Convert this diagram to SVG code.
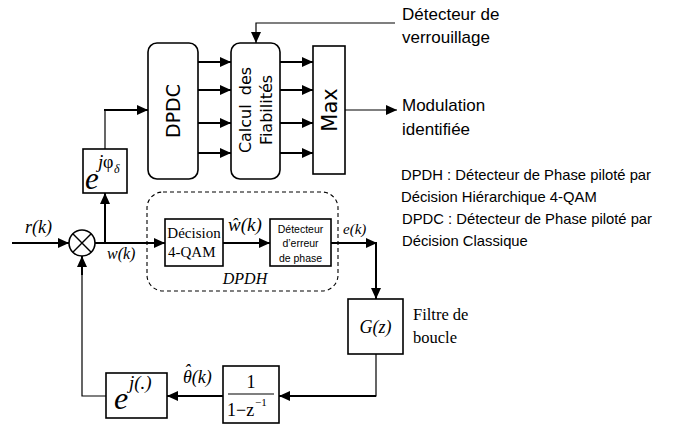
<svg xmlns="http://www.w3.org/2000/svg" width="677" height="430" viewBox="0 0 677 430">
  <style>
    .box { fill: #fff; stroke: #000; stroke-width: 1.6; }
    .dash { fill: none; stroke: #000; stroke-width: 1.1; stroke-dasharray: 4 3; }
    .w { fill: none; stroke: #000; stroke-width: 2; }
    .t { fill: none; stroke: #000; stroke-width: 1.2; }
    .sans { font-family: "Liberation Sans", Arial, sans-serif; fill: #000; }
    .dv { font-family: "DejaVu Sans", Verdana, sans-serif; fill: #000; }
    .tm { font-family: "Liberation Serif", "Times New Roman", serif; fill: #000; }
    .it { font-style: italic; }
  </style>
  <defs>
    <marker id="ah" markerUnits="userSpaceOnUse" markerWidth="11" markerHeight="10" refX="11" refY="5" orient="auto">
      <path d="M0,0 L11,5 L0,10 z" fill="#000"/>
    </marker>
  </defs>

  <!-- connectors -->
  <g id="connectors">
    <line class="w" x1="12" y1="243" x2="69" y2="243" marker-end="url(#ah)"/>
    <line class="w" x1="95" y1="243" x2="165" y2="243" marker-end="url(#ah)"/>
    <line class="w" x1="105" y1="243" x2="105" y2="193" marker-end="url(#ah)"/>
    <line class="t" x1="105" y1="149" x2="105" y2="110"/>
    <line class="w" x1="104" y1="110" x2="148" y2="110" marker-end="url(#ah)"/>
    <line class="w" x1="223" y1="243" x2="270" y2="243" marker-end="url(#ah)"/>
    <line class="w" x1="331" y1="243" x2="377" y2="243" marker-end="url(#ah)"/>
    <line class="w" x1="376" y1="242" x2="376" y2="299" marker-end="url(#ah)"/>
    <polyline class="t" points="376,354 376,396 330,396"/>
    <line class="w" x1="376" y1="396" x2="279" y2="396" marker-end="url(#ah)"/>
    <line class="w" x1="223" y1="396" x2="167" y2="396" marker-end="url(#ah)"/>
    <polyline class="t" points="106,396 82,396 82,262"/>
    <line class="w" x1="82" y1="275" x2="82" y2="256" marker-end="url(#ah)"/>
    <!-- DPDC to Calcul des Fiabilités -->
    <line class="w" x1="198" y1="62" x2="231" y2="62" marker-end="url(#ah)"/>
    <line class="w" x1="198" y1="90" x2="231" y2="90" marker-end="url(#ah)"/>
    <line class="w" x1="198" y1="123" x2="231" y2="123" marker-end="url(#ah)"/>
    <line class="w" x1="198" y1="153" x2="231" y2="153" marker-end="url(#ah)"/>
    <!-- Calcul des Fiabilités to Max -->
    <line class="w" x1="280" y1="62" x2="313" y2="62" marker-end="url(#ah)"/>
    <line class="w" x1="280" y1="90" x2="313" y2="90" marker-end="url(#ah)"/>
    <line class="w" x1="280" y1="123" x2="313" y2="123" marker-end="url(#ah)"/>
    <line class="w" x1="280" y1="153" x2="313" y2="153" marker-end="url(#ah)"/>
    <line class="t" x1="345" y1="110" x2="397" y2="110" marker-end="url(#ah)"/>
    <polyline class="t" points="395,23 256,23 256,43" marker-end="url(#ah)"/>
  </g>

  <!-- signal labels -->
  <g id="labels">
    <text class="tm it" x="25" y="233" font-size="18">r(k)</text>
    <text class="tm it" x="107" y="259" font-size="16">w(k)</text>
    <text class="tm it" x="228" y="231" font-size="19">ŵ(k)</text>
    <text class="tm it" x="343" y="234" font-size="15">e(k)</text>
    <text class="tm it" x="183" y="383" font-size="18">θ<tspan dx="-7.5" dy="-6">ˆ</tspan><tspan dx="1.5" dy="6">(k)</tspan></text>
  </g>

  <g id="dpdh">
    <rect class="dash" x="147" y="192" width="191" height="99" rx="16"/>
    <text class="tm it" x="245" y="284" font-size="16" text-anchor="middle">DPDH</text>
  </g>

  <g id="sum">
    <circle cx="82" cy="243" r="13" fill="#fff" stroke="#000" stroke-width="1.6"/>
    <path d="M72.8,233.8 L91.2,252.2 M91.2,233.8 L72.8,252.2" stroke="#000" stroke-width="1.4"/>
  </g>

  <g id="phase-offset">
    <rect class="box" x="83" y="149" width="44" height="44"/>
    <text class="tm it" x="85" y="189" font-size="31">e</text>
    <text class="tm it" x="98" y="168" font-size="19">j</text>
    <text class="tm" x="103" y="168" font-size="18">φ</text>
    <text class="tm it" x="114" y="173" font-size="12">δ</text>
  </g>

  <g id="decision">
    <rect class="box" x="165" y="219" width="58" height="47"/>
    <text class="tm" x="194" y="238" font-size="15" text-anchor="middle">Décision</text>
    <text class="tm" x="168" y="257" font-size="15">4-QAM</text>
  </g>

  <g id="detecteur-erreur">
    <rect class="box" x="270" y="219" width="61" height="47"/>
    <text class="sans" x="300.5" y="233" font-size="10.5" text-anchor="middle">Détecteur</text>
    <text class="sans" x="300.5" y="247" font-size="10.5" text-anchor="middle">d’erreur</text>
    <text class="sans" x="300.5" y="262" font-size="10.5" text-anchor="middle">de phase</text>
  </g>

  <g id="filtre">
    <rect class="box" x="348" y="299" width="55" height="55"/>
    <text class="tm it" x="375.5" y="333" font-size="18" text-anchor="middle">G(z)</text>
    <text class="tm" x="413" y="320" font-size="16.5">Filtre de</text>
    <text class="tm" x="413" y="343" font-size="16.5">boucle</text>
  </g>

  <g id="integrateur">
    <rect class="box" x="223" y="366" width="56" height="57"/>
    <text class="tm" x="251" y="388" font-size="18" text-anchor="middle">1</text>
    <line x1="228" y1="394" x2="274" y2="394" stroke="#000" stroke-width="1.2"/>
    <text class="tm" x="227" y="416" font-size="18">1−z</text>
    <text class="tm" x="255" y="406" font-size="11">−1</text>
  </g>

  <g id="nco">
    <rect class="box" x="106" y="373" width="61" height="45"/>
    <text class="tm it" x="114" y="409" font-size="32">e</text>
    <text class="tm it" x="129" y="389" font-size="19">j(.)</text>
  </g>

  <g id="dpdc">
    <rect class="box" x="148" y="43" width="50" height="136" rx="9"/>
    <text class="dv" transform="translate(180,111) rotate(-90)" font-size="19" text-anchor="middle">DPDC</text>
  </g>

  <g id="calcul">
    <rect class="box" x="231" y="43" width="49" height="136" rx="9"/>
    <text class="dv" transform="translate(251,110) rotate(-90)" font-size="16" text-anchor="middle" word-spacing="4">Calcul des</text>
    <text class="dv" transform="translate(272,110) rotate(-90)" font-size="16" text-anchor="middle">Fiabilités</text>
  </g>

  <g id="max">
    <rect class="box" x="313" y="46" width="32" height="128"/>
    <text class="dv" transform="translate(337,110) rotate(-90)" font-size="21" text-anchor="middle">Max</text>
  </g>

  <g id="notes">
    <text class="sans" x="402" y="20" font-size="17">Détecteur de</text>
    <text class="sans" x="402" y="43" font-size="17">verrouillage</text>
    <text class="sans" x="402" y="111" font-size="17">Modulation</text>
    <text class="sans" x="402" y="135" font-size="17">identifiée</text>
    <text class="sans" x="401" y="180" font-size="14.8">DPDH : Détecteur de Phase piloté par</text>
    <text class="sans" x="401" y="202" font-size="14.8">Décision Hiérarchique 4-QAM</text>
    <text class="sans" x="402" y="224" font-size="14.8">DPDC : Détecteur de Phase piloté par</text>
    <text class="sans" x="402" y="246" font-size="14.8">Décision Classique</text>
  </g>
</svg>
